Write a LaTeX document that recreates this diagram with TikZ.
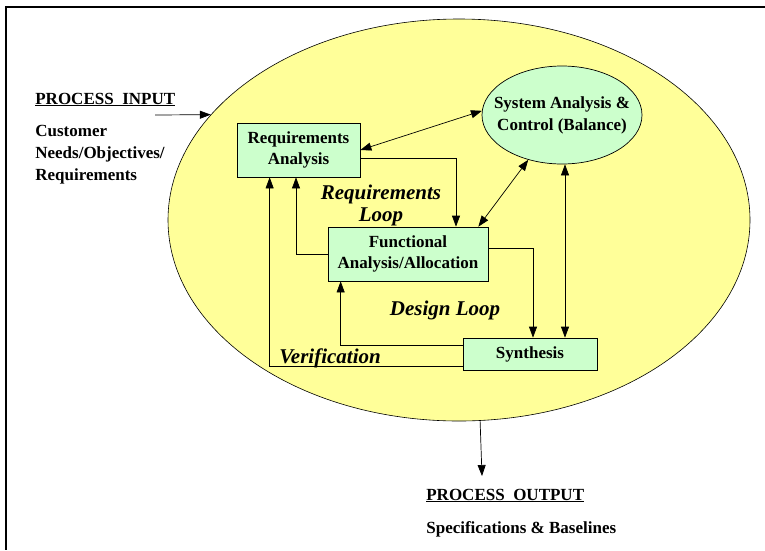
\documentclass[tikz,border=0pt]{standalone}
\usepackage{fontspec}
\setmainfont{Liberation Serif}
\usetikzlibrary{arrows.meta,shapes.geometric}
\definecolor{loopyellow}{RGB}{255,255,153}
\definecolor{boxgreen}{RGB}{204,255,204}
\tikzset{
  block/.style={draw,fill=boxgreen,align=center,font=\fontsize{17}{21.5}\selectfont\bfseries},
  looplabel/.style={font=\fontsize{21}{22}\selectfont\bfseries\itshape,align=center},
  sidetext/.style={font=\fontsize{17}{22}\selectfont\bfseries,align=left,inner sep=0pt}
}

\begin{document}
\begin{tikzpicture}[x=1pt,y=-1pt,>={Triangle[length=11pt,width=8pt]},line width=0.7pt]
      \useasboundingbox (0,0) rectangle (765,550);
      \draw[line width=1.6pt] (765,7) -- (6,7) -- (6,550);
      \node[draw,ellipse,fill=loopyellow,minimum width=582,minimum height=402,line width=0.6pt] (loop) at (459,220) {};
      \node[block,minimum width=123,minimum height=54] (req) at (298.5,150) {Requirements\\Analysis};
      \node[block,minimum width=160,minimum height=54] (func) at (408,254) {Functional\\Analysis/Allocation};
      \node[block,minimum width=134,minimum height=32] (syn) at (530,354) {Synthesis};
      \node[draw,ellipse,fill=boxgreen,minimum width=160,minimum height=98] (sys) at (562,115) {};
      \node[align=center,font=\fontsize{17}{22}\selectfont\bfseries] (systext) at (sys) {System Analysis \&\\Control (Balance)};
      \draw[<->] (req.east) -- (sys.177);
      \draw[->] ([yshift=-8pt]req.east) -| ([xshift=48pt]func.north);
      \draw[<->] ([xshift=-10pt]func.north east) -- (sys.233);
      \draw[<->] ([xshift=3pt]sys.south) -- ([xshift=3pt]sys.south |- syn.north);
      \draw[->] ([yshift=6pt]func.east) -| ([xshift=3pt]syn.north);
      \draw[->] (func.west) -| ([xshift=-2.5pt]req.south);
      \draw[->] ([yshift=9pt]syn.west) -| ([xshift=13pt]func.south west);
      \draw[->] ([yshift=-12pt]syn.west) -| ([xshift=33pt]req.south west);
      \coordinate (in) at (155,115);
      \draw[->] (in) -- (loop.157);
      \coordinate (out) at (482,476);
      \draw[->] (loop.276.5) -- (out);
      \node[looplabel] (reqloop) at (381,205) {Requirements\\Loop};
      \node[looplabel,anchor=base] (desloop) at (445,315) {Design Loop};
      \node[looplabel,anchor=base] (verif) at (330,363) {Verification};
      \node[sidetext,anchor=base west] (inhead) at (35,104) {\underline{PROCESS\ \ INPUT}};
      \node[sidetext,anchor=north west] (indesc) at (35,125) {Customer\\Needs/Objectives/\\Requirements};
      \node[sidetext,anchor=base west] (outhead) at (426,500) {\underline{PROCESS\ \ OUTPUT}};
      \node[sidetext,anchor=base west] (outdesc) at (426,533) {Specifications \& Baselines};
    \end{tikzpicture}
\end{document}
